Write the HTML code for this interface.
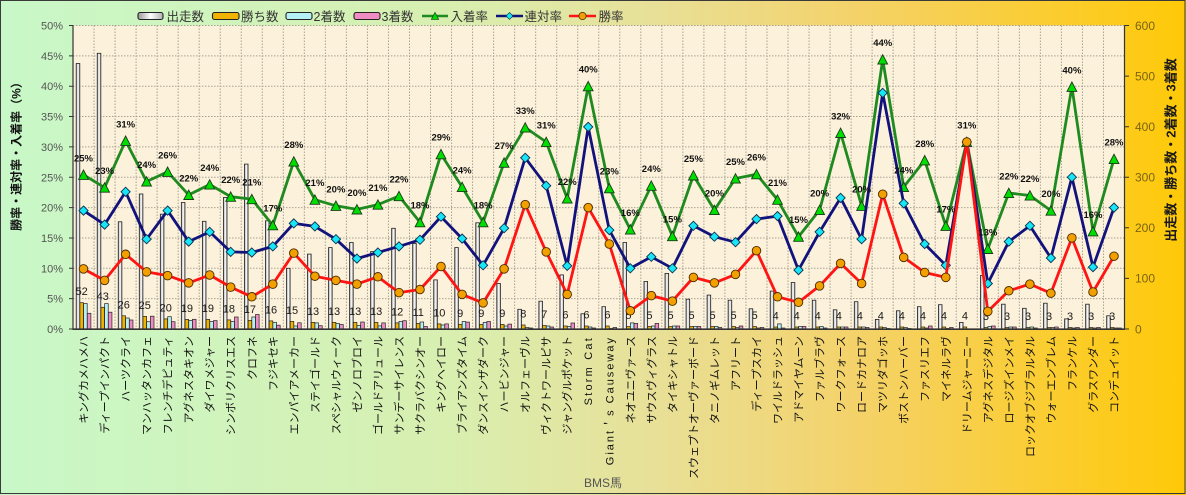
<!DOCTYPE html>
<html><head><meta charset="utf-8"><style>
html,body{margin:0;padding:0;background:#fff}
svg{display:block}
text{font-family:"Liberation Sans","Noto Sans CJK JP",sans-serif}
.r{fill:url(#gw);stroke:#222;stroke-width:.8}
.w{fill:#f0b400;stroke:#222;stroke-width:.7}
.s{fill:#b4f0f4;stroke:#222;stroke-width:.7}
.t{fill:#f08cc4;stroke:#222;stroke-width:.7}
.wl{font-size:11px;fill:#1a1a1a;text-anchor:middle}
.pl{font-size:9.5px;font-weight:bold;fill:#111;text-anchor:middle}
.xl{font-size:11px;fill:#111;text-anchor:end}
.lt{font-size:11px;fill:#555;text-anchor:end}
.rt{font-size:12px;fill:#7a6410}
.lg{font-size:12.5px;fill:#333}
</style></head><body>
<svg width="1186" height="495" viewBox="0 0 1186 495" xmlns="http://www.w3.org/2000/svg">
<defs>
<linearGradient id="bg" x1="0" y1="0" x2="1" y2="0">
<stop offset="0" stop-color="#c8f8c8"/>
<stop offset="0.38" stop-color="#d8efb0"/>
<stop offset="0.55" stop-color="#e8e098"/>
<stop offset="0.72" stop-color="#f4d26a"/>
<stop offset="1" stop-color="#ffc908"/>
</linearGradient>
<linearGradient id="gw" x1="0" y1="0" x2="1" y2="0">
<stop offset="0" stop-color="#9a9a9a"/>
<stop offset="0.5" stop-color="#ffffff"/>
<stop offset="1" stop-color="#b0b0b0"/>
</linearGradient>
<path id="tri" d="M0 -4.8L4.9 4.6L-4.9 4.6Z" fill="#00dd00" stroke="#1a3a1a" stroke-width="0.9"/>
<path id="dia" d="M0 -4.6L4.6 0L0 4.6L-4.6 0Z" fill="#18e6f6" stroke="#0a3050" stroke-width="0.9"/>
<circle id="cir" r="4.3" fill="#f2a000" stroke="#4a2800" stroke-width="0.9"/>
</defs>

<rect x="0" y="0" width="1186" height="495" fill="url(#bg)"/>
<rect x="0.5" y="0.5" width="1184.5" height="493" fill="none" stroke="#3a3a3a" stroke-width="1"/>

<!-- plot area -->
<rect x="73" y="25.5" width="1051.5" height="303.5" fill="#fcf1da"/>
<g stroke="#a8a294" stroke-width="1" stroke-dasharray="1.5,1.5" fill="none">
<path d="M73 298.65H1124.5M73 268.3H1124.5M73 237.95H1124.5M73 207.6H1124.5M73 177.25H1124.5M73 146.9H1124.5M73 116.55H1124.5M73 86.2H1124.5M73 55.85H1124.5M73 25.5H1124.5"/>
<path d="M94.03 25.5V329M115.06 25.5V329M136.09 25.5V329M157.12 25.5V329M178.15 25.5V329M199.18 25.5V329M220.21 25.5V329M241.24 25.5V329M262.27 25.5V329M283.3 25.5V329M304.33 25.5V329M325.36 25.5V329M346.39 25.5V329M367.42 25.5V329M388.45 25.5V329M409.48 25.5V329M430.51 25.5V329M451.54 25.5V329M472.57 25.5V329M493.6 25.5V329M514.63 25.5V329M535.66 25.5V329M556.69 25.5V329M577.72 25.5V329M598.75 25.5V329M619.78 25.5V329M640.81 25.5V329M661.84 25.5V329M682.87 25.5V329M703.9 25.5V329M724.93 25.5V329M745.96 25.5V329M766.99 25.5V329M788.02 25.5V329M809.05 25.5V329M830.08 25.5V329M851.11 25.5V329M872.14 25.5V329M893.17 25.5V329M914.2 25.5V329M935.23 25.5V329M956.26 25.5V329M977.29 25.5V329M998.32 25.5V329M1019.35 25.5V329M1040.38 25.5V329M1061.41 25.5V329M1082.44 25.5V329M1103.47 25.5V329"/>
</g>

<!-- bars -->
<g>
<g transform="translate(73,0)"><rect class="r" x="3.2" y="63.5" width="3.6" height="265.5"/><rect class="w" x="6.9" y="302.7" width="3.6" height="26.3"/><rect class="s" x="10.6" y="303.5" width="3.6" height="25.5"/><rect class="t" x="14.3" y="313.3" width="3.6" height="15.7"/><text class="wl" x="8.7" y="295.2">52</text></g>
<g transform="translate(94.03,0)"><rect class="r" x="3.2" y="53.3" width="3.6" height="275.7"/><rect class="w" x="6.9" y="307.3" width="3.6" height="21.7"/><rect class="s" x="10.6" y="303.6" width="3.6" height="25.4"/><rect class="t" x="14.3" y="312.2" width="3.6" height="16.8"/><text class="wl" x="8.7" y="299.8">43</text></g>
<g transform="translate(115.06,0)"><rect class="r" x="3.2" y="221.8" width="3.6" height="107.2"/><rect class="w" x="6.9" y="315.8" width="3.6" height="13.2"/><rect class="s" x="10.6" y="318" width="3.6" height="11"/><rect class="t" x="14.3" y="320" width="3.6" height="9"/><text class="wl" x="8.7" y="308.3">26</text></g>
<g transform="translate(136.09,0)"><rect class="r" x="3.2" y="194" width="3.6" height="135"/><rect class="w" x="6.9" y="316.4" width="3.6" height="12.6"/><rect class="s" x="10.6" y="321.7" width="3.6" height="7.3"/><rect class="t" x="14.3" y="316.2" width="3.6" height="12.8"/><text class="wl" x="8.7" y="308.9">25</text></g>
<g transform="translate(157.12,0)"><rect class="r" x="3.2" y="214.2" width="3.6" height="114.8"/><rect class="w" x="6.9" y="318.9" width="3.6" height="10.1"/><rect class="s" x="10.6" y="316.7" width="3.6" height="12.3"/><rect class="t" x="14.3" y="321.7" width="3.6" height="7.3"/><text class="wl" x="8.7" y="311.4">20</text></g>
<g transform="translate(178.15,0)"><rect class="r" x="3.2" y="202.5" width="3.6" height="126.5"/><rect class="w" x="6.9" y="319.4" width="3.6" height="9.6"/><rect class="s" x="10.6" y="320.4" width="3.6" height="8.6"/><rect class="t" x="14.3" y="319.3" width="3.6" height="9.7"/><text class="wl" x="8.7" y="311.9">19</text></g>
<g transform="translate(199.18,0)"><rect class="r" x="3.2" y="221.3" width="3.6" height="107.7"/><rect class="w" x="6.9" y="319.4" width="3.6" height="9.6"/><rect class="s" x="10.6" y="321.4" width="3.6" height="7.6"/><rect class="t" x="14.3" y="320.6" width="3.6" height="8.4"/><text class="wl" x="8.7" y="311.9">19</text></g>
<g transform="translate(220.21,0)"><rect class="r" x="3.2" y="197.5" width="3.6" height="131.5"/><rect class="w" x="6.9" y="319.9" width="3.6" height="9.1"/><rect class="s" x="10.6" y="321.4" width="3.6" height="7.6"/><rect class="t" x="14.3" y="317" width="3.6" height="12"/><text class="wl" x="8.7" y="312.4">18</text></g>
<g transform="translate(241.24,0)"><rect class="r" x="3.2" y="164.1" width="3.6" height="164.9"/><rect class="w" x="6.9" y="320.4" width="3.6" height="8.6"/><rect class="s" x="10.6" y="317" width="3.6" height="12"/><rect class="t" x="14.3" y="314.5" width="3.6" height="14.5"/><text class="wl" x="8.7" y="312.9">17</text></g>
<g transform="translate(262.27,0)"><rect class="r" x="3.2" y="220.8" width="3.6" height="108.2"/><rect class="w" x="6.9" y="320.9" width="3.6" height="8.1"/><rect class="s" x="10.6" y="322.3" width="3.6" height="6.7"/><rect class="t" x="14.3" y="325.2" width="3.6" height="3.8"/><text class="wl" x="8.7" y="313.4">16</text></g>
<g transform="translate(283.3,0)"><rect class="r" x="3.2" y="268.3" width="3.6" height="60.7"/><rect class="w" x="6.9" y="321.4" width="3.6" height="7.6"/><rect class="s" x="10.6" y="326" width="3.6" height="3"/><rect class="t" x="14.3" y="322.8" width="3.6" height="6.2"/><text class="wl" x="8.7" y="313.9">15</text></g>
<g transform="translate(304.33,0)"><rect class="r" x="3.2" y="254.1" width="3.6" height="74.9"/><rect class="w" x="6.9" y="322.4" width="3.6" height="6.6"/><rect class="s" x="10.6" y="322.9" width="3.6" height="6.1"/><rect class="t" x="14.3" y="325.7" width="3.6" height="3.3"/><text class="wl" x="8.7" y="314.9">13</text></g>
<g transform="translate(325.36,0)"><rect class="r" x="3.2" y="247.6" width="3.6" height="81.4"/><rect class="w" x="6.9" y="322.4" width="3.6" height="6.6"/><rect class="s" x="10.6" y="323.5" width="3.6" height="5.5"/><rect class="t" x="14.3" y="324.5" width="3.6" height="4.5"/><text class="wl" x="8.7" y="314.9">13</text></g>
<g transform="translate(346.39,0)"><rect class="r" x="3.2" y="242.5" width="3.6" height="86.5"/><rect class="w" x="6.9" y="322.4" width="3.6" height="6.6"/><rect class="s" x="10.6" y="325.4" width="3.6" height="3.6"/><rect class="t" x="14.3" y="322" width="3.6" height="7"/><text class="wl" x="8.7" y="314.9">13</text></g>
<g transform="translate(367.42,0)"><rect class="r" x="3.2" y="251.6" width="3.6" height="77.4"/><rect class="w" x="6.9" y="322.4" width="3.6" height="6.6"/><rect class="s" x="10.6" y="325.9" width="3.6" height="3.1"/><rect class="t" x="14.3" y="322.9" width="3.6" height="6.1"/><text class="wl" x="8.7" y="314.9">13</text></g>
<g transform="translate(388.45,0)"><rect class="r" x="3.2" y="228.3" width="3.6" height="100.7"/><rect class="w" x="6.9" y="322.9" width="3.6" height="6.1"/><rect class="s" x="10.6" y="321.4" width="3.6" height="7.6"/><rect class="t" x="14.3" y="320.7" width="3.6" height="8.3"/><text class="wl" x="8.7" y="315.4">12</text></g>
<g transform="translate(409.48,0)"><rect class="r" x="3.2" y="243.5" width="3.6" height="85.5"/><rect class="w" x="6.9" y="323.4" width="3.6" height="5.6"/><rect class="s" x="10.6" y="322" width="3.6" height="7"/><rect class="t" x="14.3" y="326.5" width="3.6" height="2.5"/><text class="wl" x="8.7" y="315.9">11</text></g>
<g transform="translate(430.51,0)"><rect class="r" x="3.2" y="279.9" width="3.6" height="49.1"/><rect class="w" x="6.9" y="323.9" width="3.6" height="5.1"/><rect class="s" x="10.6" y="325" width="3.6" height="4"/><rect class="t" x="14.3" y="323.9" width="3.6" height="5.1"/><text class="wl" x="8.7" y="316.4">10</text></g>
<g transform="translate(451.54,0)"><rect class="r" x="3.2" y="247.6" width="3.6" height="81.4"/><rect class="w" x="6.9" y="324.4" width="3.6" height="4.6"/><rect class="s" x="10.6" y="321.5" width="3.6" height="7.5"/><rect class="t" x="14.3" y="322.1" width="3.6" height="6.9"/><text class="wl" x="8.7" y="316.9">9</text></g>
<g transform="translate(472.57,0)"><rect class="r" x="3.2" y="222.8" width="3.6" height="106.2"/><rect class="w" x="6.9" y="324.4" width="3.6" height="4.6"/><rect class="s" x="10.6" y="322.4" width="3.6" height="6.6"/><rect class="t" x="14.3" y="321.5" width="3.6" height="7.5"/><text class="wl" x="8.7" y="316.9">9</text></g>
<g transform="translate(493.6,0)"><rect class="r" x="3.2" y="283.5" width="3.6" height="45.5"/><rect class="w" x="6.9" y="324.4" width="3.6" height="4.6"/><rect class="s" x="10.6" y="326" width="3.6" height="3"/><rect class="t" x="14.3" y="324.1" width="3.6" height="4.9"/><text class="wl" x="8.7" y="316.9">9</text></g>
<g transform="translate(514.63,0)"><rect class="r" x="3.2" y="309.3" width="3.6" height="19.7"/><rect class="w" x="6.9" y="325" width="3.6" height="4"/><rect class="s" x="10.6" y="327.5" width="3.6" height="1.5"/><rect class="t" x="14.3" y="328" width="3.6" height="1"/><text class="wl" x="8.7" y="317.5">8</text></g>
<g transform="translate(535.66,0)"><rect class="r" x="3.2" y="301.2" width="3.6" height="27.8"/><rect class="w" x="6.9" y="325.5" width="3.6" height="3.5"/><rect class="s" x="10.6" y="326" width="3.6" height="3"/><rect class="t" x="14.3" y="327" width="3.6" height="2"/><text class="wl" x="8.7" y="318">7</text></g>
<g transform="translate(556.69,0)"><rect class="r" x="3.2" y="274.9" width="3.6" height="54.1"/><rect class="w" x="6.9" y="326" width="3.6" height="3"/><rect class="s" x="10.6" y="326.5" width="3.6" height="2.5"/><rect class="t" x="14.3" y="323" width="3.6" height="6"/><text class="wl" x="8.7" y="318.5">6</text></g>
<g transform="translate(577.72,0)"><rect class="r" x="3.2" y="313.8" width="3.6" height="15.2"/><rect class="w" x="6.9" y="326" width="3.6" height="3"/><rect class="s" x="10.6" y="327" width="3.6" height="2"/><rect class="t" x="14.3" y="328" width="3.6" height="1"/><text class="wl" x="8.7" y="318.5">6</text></g>
<g transform="translate(598.75,0)"><rect class="r" x="3.2" y="306.7" width="3.6" height="22.3"/><rect class="w" x="6.9" y="326" width="3.6" height="3"/><rect class="s" x="10.6" y="328.5" width="3.6" height="0.5"/><rect class="t" x="14.3" y="327.5" width="3.6" height="1.5"/><text class="wl" x="8.7" y="318.5">6</text></g>
<g transform="translate(619.78,0)"><rect class="r" x="3.2" y="242.5" width="3.6" height="86.5"/><rect class="w" x="6.9" y="326.5" width="3.6" height="2.5"/><rect class="s" x="10.6" y="322.9" width="3.6" height="6.1"/><rect class="t" x="14.3" y="323.4" width="3.6" height="5.6"/><text class="wl" x="8.7" y="319">5</text></g>
<g transform="translate(640.81,0)"><rect class="r" x="3.2" y="281.5" width="3.6" height="47.5"/><rect class="w" x="6.9" y="326.5" width="3.6" height="2.5"/><rect class="s" x="10.6" y="326" width="3.6" height="3"/><rect class="t" x="14.3" y="323.4" width="3.6" height="5.6"/><text class="wl" x="8.7" y="319">5</text></g>
<g transform="translate(661.84,0)"><rect class="r" x="3.2" y="273.4" width="3.6" height="55.6"/><rect class="w" x="6.9" y="326.5" width="3.6" height="2.5"/><rect class="s" x="10.6" y="326" width="3.6" height="3"/><rect class="t" x="14.3" y="326" width="3.6" height="3"/><text class="wl" x="8.7" y="319">5</text></g>
<g transform="translate(682.87,0)"><rect class="r" x="3.2" y="299.2" width="3.6" height="29.8"/><rect class="w" x="6.9" y="326.5" width="3.6" height="2.5"/><rect class="s" x="10.6" y="326.5" width="3.6" height="2.5"/><rect class="t" x="14.3" y="326.5" width="3.6" height="2.5"/><text class="wl" x="8.7" y="319">5</text></g>
<g transform="translate(703.9,0)"><rect class="r" x="3.2" y="295.1" width="3.6" height="33.9"/><rect class="w" x="6.9" y="326.5" width="3.6" height="2.5"/><rect class="s" x="10.6" y="326.5" width="3.6" height="2.5"/><rect class="t" x="14.3" y="327.5" width="3.6" height="1.5"/><text class="wl" x="8.7" y="319">5</text></g>
<g transform="translate(724.93,0)"><rect class="r" x="3.2" y="300.2" width="3.6" height="28.8"/><rect class="w" x="6.9" y="326.5" width="3.6" height="2.5"/><rect class="s" x="10.6" y="327.5" width="3.6" height="1.5"/><rect class="t" x="14.3" y="326" width="3.6" height="3"/><text class="wl" x="8.7" y="319">5</text></g>
<g transform="translate(745.96,0)"><rect class="r" x="3.2" y="308.8" width="3.6" height="20.2"/><rect class="w" x="6.9" y="326.5" width="3.6" height="2.5"/><rect class="s" x="10.6" y="328" width="3.6" height="1"/><rect class="t" x="14.3" y="327.5" width="3.6" height="1.5"/><text class="wl" x="8.7" y="319">5</text></g>
<g transform="translate(766.99,0)"><rect class="r" x="3.2" y="291.1" width="3.6" height="37.9"/><rect class="w" x="6.9" y="327" width="3.6" height="2"/><rect class="s" x="10.6" y="323.9" width="3.6" height="5.1"/><rect class="t" x="14.3" y="328" width="3.6" height="1"/><text class="wl" x="8.7" y="319.5">4</text></g>
<g transform="translate(788.02,0)"><rect class="r" x="3.2" y="282.5" width="3.6" height="46.5"/><rect class="w" x="6.9" y="327" width="3.6" height="2"/><rect class="s" x="10.6" y="326.5" width="3.6" height="2.5"/><rect class="t" x="14.3" y="326.5" width="3.6" height="2.5"/><text class="wl" x="8.7" y="319.5">4</text></g>
<g transform="translate(809.05,0)"><rect class="r" x="3.2" y="300.2" width="3.6" height="28.8"/><rect class="w" x="6.9" y="327" width="3.6" height="2"/><rect class="s" x="10.6" y="326.5" width="3.6" height="2.5"/><rect class="t" x="14.3" y="328" width="3.6" height="1"/><text class="wl" x="8.7" y="319.5">4</text></g>
<g transform="translate(830.08,0)"><rect class="r" x="3.2" y="309.8" width="3.6" height="19.2"/><rect class="w" x="6.9" y="327" width="3.6" height="2"/><rect class="s" x="10.6" y="327" width="3.6" height="2"/><rect class="t" x="14.3" y="327" width="3.6" height="2"/><text class="wl" x="8.7" y="319.5">4</text></g>
<g transform="translate(851.11,0)"><rect class="r" x="3.2" y="301.7" width="3.6" height="27.3"/><rect class="w" x="6.9" y="327" width="3.6" height="2"/><rect class="s" x="10.6" y="327" width="3.6" height="2"/><rect class="t" x="14.3" y="327.5" width="3.6" height="1.5"/><text class="wl" x="8.7" y="319.5">4</text></g>
<g transform="translate(872.14,0)"><rect class="r" x="3.2" y="319.4" width="3.6" height="9.6"/><rect class="w" x="6.9" y="327" width="3.6" height="2"/><rect class="s" x="10.6" y="327.5" width="3.6" height="1.5"/><rect class="t" x="14.3" y="328.5" width="3.6" height="0.5"/><text class="wl" x="8.7" y="319.5">4</text></g>
<g transform="translate(893.17,0)"><rect class="r" x="3.2" y="310.8" width="3.6" height="18.2"/><rect class="w" x="6.9" y="327" width="3.6" height="2"/><rect class="s" x="10.6" y="327.5" width="3.6" height="1.5"/><rect class="t" x="14.3" y="328.5" width="3.6" height="0.5"/><text class="wl" x="8.7" y="319.5">4</text></g>
<g transform="translate(914.2,0)"><rect class="r" x="3.2" y="306.7" width="3.6" height="22.3"/><rect class="w" x="6.9" y="327" width="3.6" height="2"/><rect class="s" x="10.6" y="328" width="3.6" height="1"/><rect class="t" x="14.3" y="326" width="3.6" height="3"/><text class="wl" x="8.7" y="319.5">4</text></g>
<g transform="translate(935.23,0)"><rect class="r" x="3.2" y="304.7" width="3.6" height="24.3"/><rect class="w" x="6.9" y="327" width="3.6" height="2"/><rect class="s" x="10.6" y="328.5" width="3.6" height="0.5"/><rect class="t" x="14.3" y="327.5" width="3.6" height="1.5"/><text class="wl" x="8.7" y="319.5">4</text></g>
<g transform="translate(956.26,0)"><rect class="r" x="3.2" y="322.4" width="3.6" height="6.6"/><rect class="w" x="6.9" y="327" width="3.6" height="2"/><text class="wl" x="8.7" y="319.5">4</text></g>
<g transform="translate(977.29,0)"><rect class="r" x="3.2" y="275.4" width="3.6" height="53.6"/><rect class="w" x="6.9" y="327.5" width="3.6" height="1.5"/><rect class="s" x="10.6" y="326.5" width="3.6" height="2.5"/><rect class="t" x="14.3" y="326" width="3.6" height="3"/><text class="wl" x="8.7" y="320">3</text></g>
<g transform="translate(998.32,0)"><rect class="r" x="3.2" y="304.2" width="3.6" height="24.8"/><rect class="w" x="6.9" y="327.5" width="3.6" height="1.5"/><rect class="s" x="10.6" y="327" width="3.6" height="2"/><rect class="t" x="14.3" y="327" width="3.6" height="2"/><text class="wl" x="8.7" y="320">3</text></g>
<g transform="translate(1019.35,0)"><rect class="r" x="3.2" y="308.3" width="3.6" height="20.7"/><rect class="w" x="6.9" y="327.5" width="3.6" height="1.5"/><rect class="s" x="10.6" y="327" width="3.6" height="2"/><rect class="t" x="14.3" y="328" width="3.6" height="1"/><text class="wl" x="8.7" y="320">3</text></g>
<g transform="translate(1040.38,0)"><rect class="r" x="3.2" y="303.2" width="3.6" height="25.8"/><rect class="w" x="6.9" y="327.5" width="3.6" height="1.5"/><rect class="s" x="10.6" y="327.5" width="3.6" height="1.5"/><rect class="t" x="14.3" y="327" width="3.6" height="2"/><text class="wl" x="8.7" y="320">3</text></g>
<g transform="translate(1061.41,0)"><rect class="r" x="3.2" y="318.9" width="3.6" height="10.1"/><rect class="w" x="6.9" y="327.5" width="3.6" height="1.5"/><rect class="s" x="10.6" y="328" width="3.6" height="1"/><rect class="t" x="14.3" y="327.5" width="3.6" height="1.5"/><text class="wl" x="8.7" y="320">3</text></g>
<g transform="translate(1082.44,0)"><rect class="r" x="3.2" y="304.2" width="3.6" height="24.8"/><rect class="w" x="6.9" y="327.5" width="3.6" height="1.5"/><rect class="s" x="10.6" y="328" width="3.6" height="1"/><rect class="t" x="14.3" y="327.5" width="3.6" height="1.5"/><text class="wl" x="8.7" y="320">3</text></g>
<g transform="translate(1103.47,0)"><rect class="r" x="3.2" y="315.8" width="3.6" height="13.2"/><rect class="w" x="6.9" y="327.5" width="3.6" height="1.5"/><rect class="s" x="10.6" y="328" width="3.6" height="1"/><rect class="t" x="14.3" y="328" width="3.6" height="1"/><text class="wl" x="8.7" y="320">3</text></g>
</g>

<!-- axes -->
<g stroke="#333" fill="none">
<path d="M73 25.5V329.5" stroke-width="1.2"/>
<path d="M1124.5 25.5V329.5" stroke-width="1.2"/>
<path d="M72.5 329.2H1125" stroke-width="1.6"/>
<path d="M69 25.5H73M69 55.85H73M69 86.2H73M69 116.55H73M69 146.9H73M69 177.25H73M69 207.6H73M69 237.95H73M69 268.3H73M69 298.65H73M69 329H73" stroke-width="1"/>
<path d="M1124.5 25.5H1129M1124.5 76.1H1129M1124.5 126.7H1129M1124.5 177.3H1129M1124.5 227.8H1129M1124.5 278.4H1129M1124.5 329H1129" stroke-width="1"/>
</g>

<!-- 入着率 -->
<polyline fill="none" stroke="#1f8a1f" stroke-width="2.8" stroke-linejoin="round" points="83.5,174.8 104.6,187.6 125.6,140.8 146.6,181.5 167.6,171.8 188.7,194.9 209.7,184.5 230.7,196.7 251.8,199.1 272.8,225.2 293.8,161.5 314.9,199.7 335.9,205.8 356.9,209.4 377.9,204.6 399,196.1 420,222.2 441,154.2 462.1,187 483.1,222.2 504.1,162.7 525.2,127.5 546.2,142 567.2,198.5 588.2,86.2 609.3,188.2 630.3,229.5 651.3,185.7 672.4,236.1 693.4,175.4 714.4,210 735.5,178.5 756.5,174.2 777.5,199.7 798.5,236.7 819.6,210 840.6,132.9 861.6,205.8 882.7,59.5 903.7,187 924.7,160.3 945.8,225.8 966.8,142 987.8,248.9 1008.8,193 1029.9,195.5 1050.9,210.6 1071.9,86.8 1093,231.3 1114,159"/>
<g>
<use href="#tri" x="83.5" y="174.8"/><use href="#tri" x="104.6" y="187.6"/><use href="#tri" x="125.6" y="140.8"/><use href="#tri" x="146.6" y="181.5"/><use href="#tri" x="167.6" y="171.8"/><use href="#tri" x="188.7" y="194.9"/><use href="#tri" x="209.7" y="184.5"/><use href="#tri" x="230.7" y="196.7"/><use href="#tri" x="251.8" y="199.1"/><use href="#tri" x="272.8" y="225.2"/><use href="#tri" x="293.8" y="161.5"/><use href="#tri" x="314.9" y="199.7"/><use href="#tri" x="335.9" y="205.8"/><use href="#tri" x="356.9" y="209.4"/><use href="#tri" x="377.9" y="204.6"/><use href="#tri" x="399" y="196.1"/><use href="#tri" x="420" y="222.2"/><use href="#tri" x="441" y="154.2"/><use href="#tri" x="462.1" y="187"/><use href="#tri" x="483.1" y="222.2"/><use href="#tri" x="504.1" y="162.7"/><use href="#tri" x="525.2" y="127.5"/><use href="#tri" x="546.2" y="142"/><use href="#tri" x="567.2" y="198.5"/><use href="#tri" x="588.2" y="86.2"/><use href="#tri" x="609.3" y="188.2"/><use href="#tri" x="630.3" y="229.5"/><use href="#tri" x="651.3" y="185.7"/><use href="#tri" x="672.4" y="236.1"/><use href="#tri" x="693.4" y="175.4"/><use href="#tri" x="714.4" y="210"/><use href="#tri" x="735.5" y="178.5"/><use href="#tri" x="756.5" y="174.2"/><use href="#tri" x="777.5" y="199.7"/><use href="#tri" x="798.5" y="236.7"/><use href="#tri" x="819.6" y="210"/><use href="#tri" x="840.6" y="132.9"/><use href="#tri" x="861.6" y="205.8"/><use href="#tri" x="882.7" y="59.5"/><use href="#tri" x="903.7" y="187"/><use href="#tri" x="924.7" y="160.3"/><use href="#tri" x="945.8" y="225.8"/><use href="#tri" x="966.8" y="142"/><use href="#tri" x="987.8" y="248.9"/><use href="#tri" x="1008.8" y="193"/><use href="#tri" x="1029.9" y="195.5"/><use href="#tri" x="1050.9" y="210.6"/><use href="#tri" x="1071.9" y="86.8"/><use href="#tri" x="1093" y="231.3"/><use href="#tri" x="1114" y="159"/>
</g>

<!-- 連対率 -->
<polyline fill="none" stroke="#12127c" stroke-width="2.8" stroke-linejoin="round" points="83.5,210.6 104.6,224.6 125.6,191.8 146.6,239.2 167.6,210.6 188.7,241.6 209.7,231.9 230.7,251.9 251.8,252.5 272.8,246.4 293.8,223.4 314.9,226.4 335.9,239.2 356.9,258.6 377.9,252.5 399,246.4 420,239.8 441,216.7 462.1,238.6 483.1,265.3 504.1,228.2 525.2,157.8 546.2,185.7 567.2,265.9 588.2,126.9 609.3,230.1 630.3,268.3 651.3,256.8 672.4,268.3 693.4,225.8 714.4,236.7 735.5,242.2 756.5,219.1 777.5,216.1 798.5,270.1 819.6,231.9 840.6,197.9 861.6,239.2 882.7,92.9 903.7,203.4 924.7,244 945.8,265.3 966.8,142 987.8,283.5 1008.8,241.6 1029.9,225.8 1050.9,258 1071.9,177.2 1093,267.1 1114,207.6"/>
<g>
<use href="#dia" x="83.5" y="210.6"/><use href="#dia" x="104.6" y="224.6"/><use href="#dia" x="125.6" y="191.8"/><use href="#dia" x="146.6" y="239.2"/><use href="#dia" x="167.6" y="210.6"/><use href="#dia" x="188.7" y="241.6"/><use href="#dia" x="209.7" y="231.9"/><use href="#dia" x="230.7" y="251.9"/><use href="#dia" x="251.8" y="252.5"/><use href="#dia" x="272.8" y="246.4"/><use href="#dia" x="293.8" y="223.4"/><use href="#dia" x="314.9" y="226.4"/><use href="#dia" x="335.9" y="239.2"/><use href="#dia" x="356.9" y="258.6"/><use href="#dia" x="377.9" y="252.5"/><use href="#dia" x="399" y="246.4"/><use href="#dia" x="420" y="239.8"/><use href="#dia" x="441" y="216.7"/><use href="#dia" x="462.1" y="238.6"/><use href="#dia" x="483.1" y="265.3"/><use href="#dia" x="504.1" y="228.2"/><use href="#dia" x="525.2" y="157.8"/><use href="#dia" x="546.2" y="185.7"/><use href="#dia" x="567.2" y="265.9"/><use href="#dia" x="588.2" y="126.9"/><use href="#dia" x="609.3" y="230.1"/><use href="#dia" x="630.3" y="268.3"/><use href="#dia" x="651.3" y="256.8"/><use href="#dia" x="672.4" y="268.3"/><use href="#dia" x="693.4" y="225.8"/><use href="#dia" x="714.4" y="236.7"/><use href="#dia" x="735.5" y="242.2"/><use href="#dia" x="756.5" y="219.1"/><use href="#dia" x="777.5" y="216.1"/><use href="#dia" x="798.5" y="270.1"/><use href="#dia" x="819.6" y="231.9"/><use href="#dia" x="840.6" y="197.9"/><use href="#dia" x="861.6" y="239.2"/><use href="#dia" x="882.7" y="92.9"/><use href="#dia" x="903.7" y="203.4"/><use href="#dia" x="924.7" y="244"/><use href="#dia" x="945.8" y="265.3"/><use href="#dia" x="966.8" y="142"/><use href="#dia" x="987.8" y="283.5"/><use href="#dia" x="1008.8" y="241.6"/><use href="#dia" x="1029.9" y="225.8"/><use href="#dia" x="1050.9" y="258"/><use href="#dia" x="1071.9" y="177.2"/><use href="#dia" x="1093" y="267.1"/><use href="#dia" x="1114" y="207.6"/>
</g>

<!-- 勝率 -->
<polyline fill="none" stroke="#ff1414" stroke-width="2.8" stroke-linejoin="round" points="83.5,268.9 104.6,280.4 125.6,254.3 146.6,271.9 167.6,275.6 188.7,282.9 209.7,275 230.7,287.1 251.8,296.8 272.8,284.1 293.8,253.1 314.9,276.2 335.9,280.4 356.9,284.1 377.9,276.8 399,292.6 420,289.5 441,266.5 462.1,294.4 483.1,302.9 504.1,268.9 525.2,204.6 546.2,251.9 567.2,294.4 588.2,207.6 609.3,244 630.3,310.8 651.3,295.6 672.4,301.1 693.4,277.4 714.4,282.9 735.5,274.4 756.5,250.7 777.5,296.8 798.5,302.3 819.6,285.9 840.6,263.4 861.6,283.5 882.7,194.2 903.7,257.4 924.7,272.5 945.8,277.4 966.8,142 987.8,311.4 1008.8,290.8 1029.9,284.1 1050.9,293.2 1071.9,237.9 1093,292 1114,256.2"/>
<g>
<use href="#cir" x="83.5" y="268.9"/><use href="#cir" x="104.6" y="280.4"/><use href="#cir" x="125.6" y="254.3"/><use href="#cir" x="146.6" y="271.9"/><use href="#cir" x="167.6" y="275.6"/><use href="#cir" x="188.7" y="282.9"/><use href="#cir" x="209.7" y="275"/><use href="#cir" x="230.7" y="287.1"/><use href="#cir" x="251.8" y="296.8"/><use href="#cir" x="272.8" y="284.1"/><use href="#cir" x="293.8" y="253.1"/><use href="#cir" x="314.9" y="276.2"/><use href="#cir" x="335.9" y="280.4"/><use href="#cir" x="356.9" y="284.1"/><use href="#cir" x="377.9" y="276.8"/><use href="#cir" x="399" y="292.6"/><use href="#cir" x="420" y="289.5"/><use href="#cir" x="441" y="266.5"/><use href="#cir" x="462.1" y="294.4"/><use href="#cir" x="483.1" y="302.9"/><use href="#cir" x="504.1" y="268.9"/><use href="#cir" x="525.2" y="204.6"/><use href="#cir" x="546.2" y="251.9"/><use href="#cir" x="567.2" y="294.4"/><use href="#cir" x="588.2" y="207.6"/><use href="#cir" x="609.3" y="244"/><use href="#cir" x="630.3" y="310.8"/><use href="#cir" x="651.3" y="295.6"/><use href="#cir" x="672.4" y="301.1"/><use href="#cir" x="693.4" y="277.4"/><use href="#cir" x="714.4" y="282.9"/><use href="#cir" x="735.5" y="274.4"/><use href="#cir" x="756.5" y="250.7"/><use href="#cir" x="777.5" y="296.8"/><use href="#cir" x="798.5" y="302.3"/><use href="#cir" x="819.6" y="285.9"/><use href="#cir" x="840.6" y="263.4"/><use href="#cir" x="861.6" y="283.5"/><use href="#cir" x="882.7" y="194.2"/><use href="#cir" x="903.7" y="257.4"/><use href="#cir" x="924.7" y="272.5"/><use href="#cir" x="945.8" y="277.4"/><use href="#cir" x="966.8" y="142"/><use href="#cir" x="987.8" y="311.4"/><use href="#cir" x="1008.8" y="290.8"/><use href="#cir" x="1029.9" y="284.1"/><use href="#cir" x="1050.9" y="293.2"/><use href="#cir" x="1071.9" y="237.9"/><use href="#cir" x="1093" y="292"/><use href="#cir" x="1114" y="256.2"/>
</g>

<!-- 入着率 labels -->
<g class="pl">
<text class="pl" x="83.5" y="161.3">25%</text><text class="pl" x="104.6" y="174.1">23%</text><text class="pl" x="125.6" y="127.3">31%</text><text class="pl" x="146.6" y="168">24%</text><text class="pl" x="167.6" y="158.3">26%</text><text class="pl" x="188.7" y="181.4">22%</text><text class="pl" x="209.7" y="171">24%</text><text class="pl" x="230.7" y="183.2">22%</text><text class="pl" x="251.8" y="185.6">21%</text><text class="pl" x="272.8" y="211.7">17%</text><text class="pl" x="293.8" y="148">28%</text><text class="pl" x="314.9" y="186.2">21%</text><text class="pl" x="335.9" y="192.3">20%</text><text class="pl" x="356.9" y="195.9">20%</text><text class="pl" x="377.9" y="191.1">21%</text><text class="pl" x="399" y="182.6">22%</text><text class="pl" x="420" y="208.7">18%</text><text class="pl" x="441" y="140.7">29%</text><text class="pl" x="462.1" y="173.5">24%</text><text class="pl" x="483.1" y="208.7">18%</text><text class="pl" x="504.1" y="149.2">27%</text><text class="pl" x="525.2" y="114">33%</text><text class="pl" x="546.2" y="128.5">31%</text><text class="pl" x="567.2" y="185">22%</text><text class="pl" x="588.2" y="72.7">40%</text><text class="pl" x="609.3" y="174.7">23%</text><text class="pl" x="630.3" y="216">16%</text><text class="pl" x="651.3" y="172.2">24%</text><text class="pl" x="672.4" y="222.6">15%</text><text class="pl" x="693.4" y="161.9">25%</text><text class="pl" x="714.4" y="196.5">20%</text><text class="pl" x="735.5" y="165">25%</text><text class="pl" x="756.5" y="160.7">26%</text><text class="pl" x="777.5" y="186.2">21%</text><text class="pl" x="798.5" y="223.2">15%</text><text class="pl" x="819.6" y="196.5">20%</text><text class="pl" x="840.6" y="119.4">32%</text><text class="pl" x="861.6" y="192.3">20%</text><text class="pl" x="882.7" y="46">44%</text><text class="pl" x="903.7" y="173.5">24%</text><text class="pl" x="924.7" y="146.8">28%</text><text class="pl" x="945.8" y="212.3">17%</text><text class="pl" x="966.8" y="128.5">31%</text><text class="pl" x="987.8" y="235.4">13%</text><text class="pl" x="1008.8" y="179.5">22%</text><text class="pl" x="1029.9" y="182">22%</text><text class="pl" x="1050.9" y="197.1">20%</text><text class="pl" x="1071.9" y="73.3">40%</text><text class="pl" x="1093" y="217.8">16%</text><text class="pl" x="1114" y="145.5">28%</text>
</g>

<!-- left axis ticks -->
<g class="lt">
<text class="lt" x="63" y="29.5">50%</text><text class="lt" x="63" y="59.9">45%</text><text class="lt" x="63" y="90.2">40%</text><text class="lt" x="63" y="120.6">35%</text><text class="lt" x="63" y="150.9">30%</text><text class="lt" x="63" y="181.3">25%</text><text class="lt" x="63" y="211.6">20%</text><text class="lt" x="63" y="242">15%</text><text class="lt" x="63" y="272.3">10%</text><text class="lt" x="63" y="302.7">5%</text><text class="lt" x="63" y="333">0%</text>
</g>
<!-- right axis ticks -->
<g class="rt">
<text class="rt" x="1135" y="29.8">600</text><text class="rt" x="1135" y="80.4">500</text><text class="rt" x="1135" y="131">400</text><text class="rt" x="1135" y="181.6">300</text><text class="rt" x="1135" y="232.1">200</text><text class="rt" x="1135" y="282.7">100</text><text class="rt" x="1135" y="333.3">0</text>
</g>

<!-- axis titles -->
<text transform="translate(20.5,153.5) rotate(-90)" text-anchor="middle" font-size="12" font-weight="bold" fill="#111">勝率・連対率・入着率（%）</text>
<text transform="translate(1175.5,150) rotate(-90)" text-anchor="middle" font-size="13" font-weight="bold" fill="#1a1a1a">出走数・勝ち数・2着数・3着数</text>
<text x="603" y="487" text-anchor="middle" font-size="12" fill="#555">BMS馬</text>

<!-- x labels -->
<g class="xl">
<text class="xl" transform="translate(87.5,336) rotate(-90)">キングカメハメハ</text>
<text class="xl" transform="translate(108.6,336) rotate(-90)">ディープインパクト</text>
<text class="xl" transform="translate(129.6,336) rotate(-90)">ハーツクライ</text>
<text class="xl" transform="translate(150.6,336) rotate(-90)">マンハッタンカフェ</text>
<text class="xl" transform="translate(171.6,336) rotate(-90)">フレンチデピュティ</text>
<text class="xl" transform="translate(192.7,336) rotate(-90)">アグネスタキオン</text>
<text class="xl" transform="translate(213.7,336) rotate(-90)">ダイワメジャー</text>
<text class="xl" transform="translate(234.7,336) rotate(-90)">シンボリクリスエス</text>
<text class="xl" transform="translate(255.8,336) rotate(-90)">クロフネ</text>
<text class="xl" transform="translate(276.8,336) rotate(-90)">フジキセキ</text>
<text class="xl" transform="translate(297.8,336) rotate(-90)">エンパイアメーカー</text>
<text class="xl" transform="translate(318.9,336) rotate(-90)">ステイゴールド</text>
<text class="xl" transform="translate(339.9,336) rotate(-90)">スペシャルウィーク</text>
<text class="xl" transform="translate(360.9,336) rotate(-90)">ゼンノロブロイ</text>
<text class="xl" transform="translate(381.9,336) rotate(-90)">ゴールドアリュール</text>
<text class="xl" transform="translate(403,336) rotate(-90)">サンデーサイレンス</text>
<text class="xl" transform="translate(424,336) rotate(-90)">サクラバクシンオー</text>
<text class="xl" transform="translate(445,336) rotate(-90)">キングヘイロー</text>
<text class="xl" transform="translate(466.1,336) rotate(-90)">ブライアンズタイム</text>
<text class="xl" transform="translate(487.1,336) rotate(-90)">ダンスインザダーク</text>
<text class="xl" transform="translate(508.1,336) rotate(-90)">ハービンジャー</text>
<text class="xl" transform="translate(529.2,336) rotate(-90)">オルフェーヴル</text>
<text class="xl" transform="translate(550.2,336) rotate(-90)">ヴィクトワールピサ</text>
<text class="xl" transform="translate(571.2,336) rotate(-90)">ジャングルポケット</text>
<text class="xl" transform="translate(592.2,336) rotate(-90)" letter-spacing="2.2">Storm Cat</text>
<text class="xl" transform="translate(613.3,336) rotate(-90)" letter-spacing="2">Giant＇s Causeway</text>
<text class="xl" transform="translate(634.3,336) rotate(-90)">ネオユニヴァース</text>
<text class="xl" transform="translate(655.3,336) rotate(-90)">サウスヴィグラス</text>
<text class="xl" transform="translate(676.4,336) rotate(-90)">タイキシャトル</text>
<text class="xl" transform="translate(697.4,336) rotate(-90)">スウェプトオーヴァーボード</text>
<text class="xl" transform="translate(718.4,336) rotate(-90)">タニノギムレット</text>
<text class="xl" transform="translate(739.5,336) rotate(-90)">アフリート</text>
<text class="xl" transform="translate(760.5,336) rotate(-90)">ディープスカイ</text>
<text class="xl" transform="translate(781.5,336) rotate(-90)">ワイルドラッシュ</text>
<text class="xl" transform="translate(802.5,336) rotate(-90)">アドマイヤムーン</text>
<text class="xl" transform="translate(823.6,336) rotate(-90)">ファルブラヴ</text>
<text class="xl" transform="translate(844.6,336) rotate(-90)">ワークフォース</text>
<text class="xl" transform="translate(865.6,336) rotate(-90)">ロードカナロア</text>
<text class="xl" transform="translate(886.7,336) rotate(-90)">マツリダゴッホ</text>
<text class="xl" transform="translate(907.7,336) rotate(-90)">ボストンハーバー</text>
<text class="xl" transform="translate(928.7,336) rotate(-90)">ファスリエフ</text>
<text class="xl" transform="translate(949.8,336) rotate(-90)">マイネルラヴ</text>
<text class="xl" transform="translate(970.8,336) rotate(-90)">ドリームジャーニー</text>
<text class="xl" transform="translate(991.8,336) rotate(-90)">アグネスデジタル</text>
<text class="xl" transform="translate(1012.8,336) rotate(-90)">ロージズインメイ</text>
<text class="xl" transform="translate(1033.9,336) rotate(-90)">ロックオブジブラルタル</text>
<text class="xl" transform="translate(1054.9,336) rotate(-90)">ウォーエンブレム</text>
<text class="xl" transform="translate(1075.9,336) rotate(-90)">フランケル</text>
<text class="xl" transform="translate(1097,336) rotate(-90)">グラスワンダー</text>
<text class="xl" transform="translate(1118,336) rotate(-90)">コンデュイット</text>
</g>

<!-- legend -->
<g>
<rect x="138" y="12.5" width="25" height="7" rx="2" fill="url(#gw)" stroke="#222" stroke-width="1.1"/>
<text class="lg" x="166.5" y="20.8">出走数</text>
<rect x="212.5" y="12.5" width="26.5" height="7" rx="2" fill="#f0b400" stroke="#222" stroke-width="1.1"/>
<text class="lg" x="241" y="20.8">勝ち数</text>
<rect x="286" y="12.5" width="26" height="7" rx="2" fill="#b4f0f4" stroke="#222" stroke-width="1.1"/>
<text class="lg" x="313.5" y="20.8">2着数</text>
<rect x="354" y="12.5" width="26" height="7" rx="2" fill="#f08cc4" stroke="#222" stroke-width="1.1"/>
<text class="lg" x="381.5" y="20.8">3着数</text>
<line x1="422" y1="16" x2="448" y2="16" stroke="#1f8a1f" stroke-width="2.6"/>
<use href="#tri" x="435" y="16" transform="translate(435,16) scale(0.75) translate(-435,-16)"/>
<text class="lg" x="450.5" y="20.8">入着率</text>
<line x1="496" y1="16" x2="523" y2="16" stroke="#12127c" stroke-width="2.6"/>
<use href="#dia" x="509.5" y="16" transform="translate(509.5,16) scale(0.75) translate(-509.5,-16)"/>
<text class="lg" x="524.5" y="20.8">連対率</text>
<line x1="569" y1="16" x2="596" y2="16" stroke="#ff1414" stroke-width="2.6"/>
<use href="#cir" x="582.5" y="16" transform="translate(582.5,16) scale(0.85) translate(-582.5,-16)"/>
<text class="lg" x="598.5" y="20.8">勝率</text>
</g>
</svg>
</body></html>
